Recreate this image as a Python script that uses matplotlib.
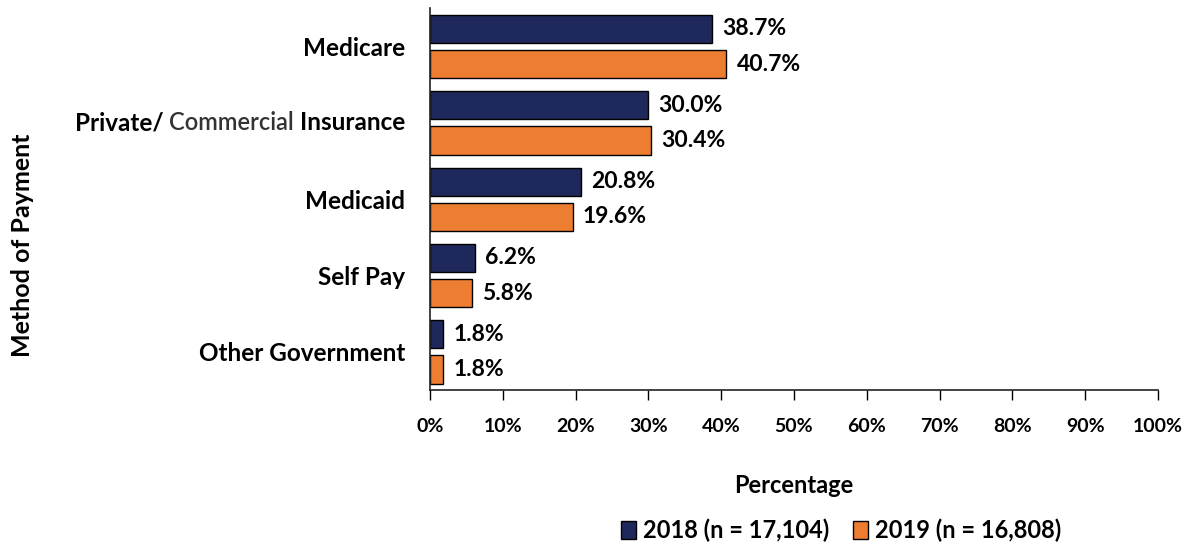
import numpy as np
import matplotlib.pyplot as plt

categories = ["Medicare", "Private/ Commercial Insurance", "Medicaid",
              "Self Pay", "Other Government"]
vals_2018 = [38.7, 30.0, 20.8, 6.2, 1.8]
vals_2019 = [40.7, 30.4, 19.6, 5.8, 1.8]
labels = ["2018 (n = 17,104)", "2019 (n = 16,808)"]
xticks = list(range(0, 101, 10))

plt.rcParams['font.family'] = ['Lato', 'DejaVu Sans']
plt.rcParams['font.weight'] = 'bold'

fig = plt.figure(figsize=(11.93, 5.46), dpi=100)
ax = fig.add_axes([0.3604, 0.2857, 0.6102, 0.699])

y = np.arange(len(categories))
h = 0.37
gap = 0.045
b1 = ax.barh(y - h/2 - gap, vals_2018, height=h, color='#1F285A',
             edgecolor='black', linewidth=1, label=labels[0])
b2 = ax.barh(y + h/2 + gap, vals_2019, height=h, color='#ED7D31',
             edgecolor='black', linewidth=1, label=labels[1])

for bars, vals in [(b1, vals_2018), (b2, vals_2019)]:
    for bar, v in zip(bars, vals):
        ax.text(v + 1.4, bar.get_y() + bar.get_height()/2, f"{v:.1f}%",
                va='center', ha='left', fontsize=16.5, fontweight='bold')

ax.set_ylim(len(categories) - 0.5, -0.5)
ax.set_xlim(0, 100)
ax.set_xticks(xticks)
ax.set_xticklabels([f"{t}%" for t in xticks], fontsize=14, fontweight='bold')
ax.set_yticks(y)
# the second label is drawn in pieces below ("Commercial" is not bold)
ax.set_yticklabels([c if i != 1 else "" for i, c in enumerate(categories)],
                   fontsize=17.5, fontweight='bold')
ax.tick_params(axis='y', length=0, pad=18)
ax.tick_params(axis='x', direction='out', length=7, width=1, pad=13)

t3 = ax.annotate("Insurance", xy=(0, 1), xycoords=('axes fraction', 'data'),
                 xytext=(-18, 0), textcoords='offset points',
                 ha='right', va='center', fontsize=17.5, fontweight='bold')
t2 = ax.annotate("Commercial ", xy=(0, 0.5), xycoords=t3,
                 ha='right', va='center', fontsize=17,
                 fontweight='semibold', color='#333333')
t1 = ax.annotate("Private/ ", xy=(0, 0.5), xycoords=t2,
                 ha='right', va='center', fontsize=17.5, fontweight='bold')

for s in ['top', 'right']:
    ax.spines[s].set_visible(False)
ax.spines['left'].set_linewidth(1.2)
ax.spines['bottom'].set_linewidth(1.2)
ax.spines['bottom'].set_color('#222222')
ax.spines['left'].set_color('#222222')

ax.set_xlabel("Percentage", fontsize=17, fontweight='bold', labelpad=28)
fig.text(0.019, 0.55, "Method of Payment", rotation=90, fontsize=18,
         fontweight='bold', va='center', ha='center')

fig.legend(handles=[b1, b2], labels=labels, loc='center',
           bbox_to_anchor=(0.705, 0.028), ncol=2, frameon=False,
           fontsize=17, handlelength=0.65, handleheight=0.8,
           handletextpad=0.3, columnspacing=1.0)

fig.savefig("out.png", dpi=100)
